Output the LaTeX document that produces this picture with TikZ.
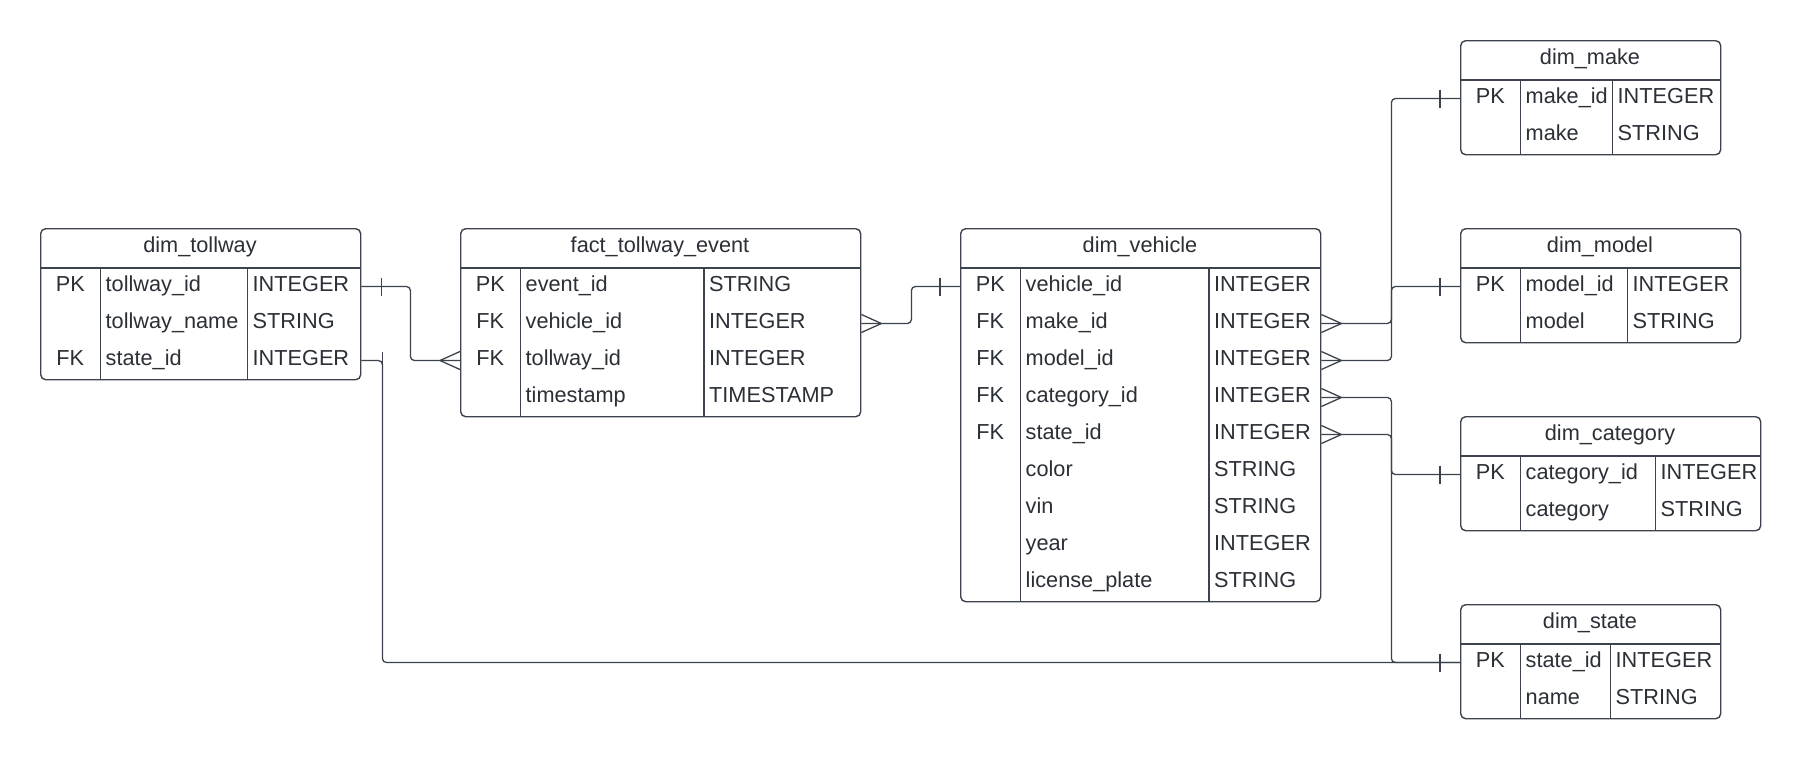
\documentclass[tikz,border=0pt]{standalone}
\usepackage{fontspec}
\setmainfont{Liberation Sans}
\definecolor{lncol}{HTML}{3D434D}
\definecolor{inkcol}{HTML}{2B2F36}

\begin{document}
\begin{tikzpicture}[x=1pt,y=-1pt,
  tbl/.style={draw=lncol,line width=1.4pt,rounded corners=5pt,anchor=north west,inner sep=0pt},
  cell/.style={inner sep=0pt,minimum height=37pt,text height=9pt,text depth=0pt,
    text=inkcol,font=\fontsize{21.7}{26}\selectfont},
  keycell/.style={cell,minimum width=60pt},
  fieldcell/.style={cell,anchor=west},
  title/.style={cell,minimum height=40pt},
  grid/.style={draw=lncol,line width=1.3pt},
  rel/.style={draw=lncol,line width=1.3pt,rounded corners=4pt},
  foot/.style={draw=lncol,line width=1.3pt}]

\useasboundingbox[fill=white] (0,0) rectangle (1800,758);

  %% tables
  \node[tbl,minimum width=320pt,minimum height=151pt] (tollway) at (40,228) {};
  \node[tbl,minimum width=400pt,minimum height=188pt] (fact) at (460,228) {};
  \node[tbl,minimum width=360pt,minimum height=373pt] (vehicle) at (960,228) {};
  \node[tbl,minimum width=260pt,minimum height=114pt] (make) at (1460,40) {};
  \node[tbl,minimum width=280pt,minimum height=114pt] (model) at (1460,228) {};
  \node[tbl,minimum width=300pt,minimum height=114pt] (category) at (1460,416) {};
  \node[tbl,minimum width=260pt,minimum height=114pt] (state) at (1460,604) {};

  %% header and column lines
  \draw[grid] (40,268) -- (360,268) (100.5,268) -- (100.5,379) (247.5,268) -- (247.5,379);
  \draw[grid] (460,268) -- (860,268) (520.5,268) -- (520.5,416) (704,268) -- (704,416);
  \draw[grid] (960,268) -- (1320,268) (1020.5,268) -- (1020.5,601) (1209,268) -- (1209,601);
  \draw[grid] (1460,80) -- (1720,80) (1520.5,80) -- (1520.5,154) (1612.5,80) -- (1612.5,154);
  \draw[grid] (1460,268) -- (1740,268) (1520.5,268) -- (1520.5,342) (1627.5,268) -- (1627.5,342);
  \draw[grid] (1460,456) -- (1760,456) (1520.5,456) -- (1520.5,530) (1655.5,456) -- (1655.5,530);
  \draw[grid] (1460,644) -- (1720,644) (1520.5,644) -- (1520.5,718) (1610.5,644) -- (1610.5,718);

  %% titles
  \node[title] (twh) at (200,248) {dim\_tollway};
  \node[title] (feh) at (660,248) {fact\_tollway\_event};
  \node[title] (veh) at (1140,248) {dim\_vehicle};
  \node[title] (mkh) at (1590,60) {dim\_make};
  \node[title] (mdh) at (1600,248) {dim\_model};
  \node[title] (cth) at (1610,436) {dim\_category};
  \node[title] (sth) at (1590,624) {dim\_state};

  %% dim_tollway rows
  \node[keycell] (tw1) at (70.25,286.5) {PK};
  \node[fieldcell] (tw1n) at (105.5,286.5) {tollway\_id};
  \node[fieldcell] (tw1t) at (252.5,286.5) {INTEGER};
  \node[keycell] (tw2) at (70.25,323.5) {};
  \node[fieldcell] (tw2n) at (105.5,323.5) {tollway\_name};
  \node[fieldcell] (tw2t) at (252.5,323.5) {STRING};
  \node[keycell] (tw3) at (70.25,360.5) {FK};
  \node[fieldcell] (tw3n) at (105.5,360.5) {state\_id};
  \node[fieldcell] (tw3t) at (252.5,360.5) {INTEGER};

  %% fact_tollway_event rows
  \node[keycell] (fe1) at (490.25,286.5) {PK};
  \node[fieldcell] (fe1n) at (525.5,286.5) {event\_id};
  \node[fieldcell] (fe1t) at (709,286.5) {STRING};
  \node[keycell] (fe2) at (490.25,323.5) {FK};
  \node[fieldcell] (fe2n) at (525.5,323.5) {vehicle\_id};
  \node[fieldcell] (fe2t) at (709,323.5) {INTEGER};
  \node[keycell] (fe3) at (490.25,360.5) {FK};
  \node[fieldcell] (fe3n) at (525.5,360.5) {tollway\_id};
  \node[fieldcell] (fe3t) at (709,360.5) {INTEGER};
  \node[keycell] (fe4) at (490.25,397.5) {};
  \node[fieldcell] (fe4n) at (525.5,397.5) {timestamp};
  \node[fieldcell] (fe4t) at (709,397.5) {TIMESTAMP};

  %% dim_vehicle rows
  \node[keycell] (ve1) at (990.25,286.5) {PK};
  \node[fieldcell] (ve1n) at (1025.5,286.5) {vehicle\_id};
  \node[fieldcell] (ve1t) at (1214,286.5) {INTEGER};
  \node[keycell] (ve2) at (990.25,323.5) {FK};
  \node[fieldcell] (ve2n) at (1025.5,323.5) {make\_id};
  \node[fieldcell] (ve2t) at (1214,323.5) {INTEGER};
  \node[keycell] (ve3) at (990.25,360.5) {FK};
  \node[fieldcell] (ve3n) at (1025.5,360.5) {model\_id};
  \node[fieldcell] (ve3t) at (1214,360.5) {INTEGER};
  \node[keycell] (ve4) at (990.25,397.5) {FK};
  \node[fieldcell] (ve4n) at (1025.5,397.5) {category\_id};
  \node[fieldcell] (ve4t) at (1214,397.5) {INTEGER};
  \node[keycell] (ve5) at (990.25,434.5) {FK};
  \node[fieldcell] (ve5n) at (1025.5,434.5) {state\_id};
  \node[fieldcell] (ve5t) at (1214,434.5) {INTEGER};
  \node[keycell] (ve6) at (990.25,471.5) {};
  \node[fieldcell] (ve6n) at (1025.5,471.5) {color};
  \node[fieldcell] (ve6t) at (1214,471.5) {STRING};
  \node[keycell] (ve7) at (990.25,508.5) {};
  \node[fieldcell] (ve7n) at (1025.5,508.5) {vin};
  \node[fieldcell] (ve7t) at (1214,508.5) {STRING};
  \node[keycell] (ve8) at (990.25,545.5) {};
  \node[fieldcell] (ve8n) at (1025.5,545.5) {year};
  \node[fieldcell] (ve8t) at (1214,545.5) {INTEGER};
  \node[keycell] (ve9) at (990.25,582.5) {};
  \node[fieldcell] (ve9n) at (1025.5,582.5) {license\_plate};
  \node[fieldcell] (ve9t) at (1214,582.5) {STRING};

  %% dim_make rows
  \node[keycell] (mk1) at (1490.25,98.5) {PK};
  \node[fieldcell] (mk1n) at (1525.5,98.5) {make\_id};
  \node[fieldcell] (mk1t) at (1617.5,98.5) {INTEGER};
  \node[keycell] (mk2) at (1490.25,135.5) {};
  \node[fieldcell] (mk2n) at (1525.5,135.5) {make};
  \node[fieldcell] (mk2t) at (1617.5,135.5) {STRING};

  %% dim_model rows
  \node[keycell] (md1) at (1490.25,286.5) {PK};
  \node[fieldcell] (md1n) at (1525.5,286.5) {model\_id};
  \node[fieldcell] (md1t) at (1632.5,286.5) {INTEGER};
  \node[keycell] (md2) at (1490.25,323.5) {};
  \node[fieldcell] (md2n) at (1525.5,323.5) {model};
  \node[fieldcell] (md2t) at (1632.5,323.5) {STRING};

  %% dim_category rows
  \node[keycell] (ct1) at (1490.25,474.5) {PK};
  \node[fieldcell] (ct1n) at (1525.5,474.5) {category\_id};
  \node[fieldcell] (ct1t) at (1660.5,474.5) {INTEGER};
  \node[keycell] (ct2) at (1490.25,511.5) {};
  \node[fieldcell] (ct2n) at (1525.5,511.5) {category};
  \node[fieldcell] (ct2t) at (1660.5,511.5) {STRING};

  %% dim_state rows
  \node[keycell] (st1) at (1490.25,662.5) {PK};
  \node[fieldcell] (st1n) at (1525.5,662.5) {state\_id};
  \node[fieldcell] (st1t) at (1615.5,662.5) {INTEGER};
  \node[keycell] (st2) at (1490.25,699.5) {};
  \node[fieldcell] (st2n) at (1525.5,699.5) {name};
  \node[fieldcell] (st2t) at (1615.5,699.5) {STRING};

  %% tollway -> fact (one to many)
  \draw[rel] (tollway.east |- tw1) -- ++(49,0) |- (fact.west |- fe3);
  \draw[foot] (tollway.east |- tw1) ++(20,-9) -- ++(0,18);
  \draw[foot] (fact.west |- fe3) ++(-20,0) -- ++(20,-9) ++(-20,9) -- ++(20,9);

  %% vehicle -> fact
  \draw[rel] (fact.east |- fe2) -- ++(50,0) |- (vehicle.west |- ve1);
  \draw[foot] (fact.east |- fe2) ++(20,0) -- ++(-20,-9) ++(20,9) -- ++(-20,9);
  \draw[foot] (vehicle.west |- ve1) ++(-20,-9) -- ++(0,18);

  %% make -> vehicle
  \draw[rel] (vehicle.east |- ve2) -- ++(70,0) |- (make.west |- mk1);
  \draw[foot] (vehicle.east |- ve2) ++(20,0) -- ++(-20,-9) ++(20,9) -- ++(-20,9);
  \draw[foot] (make.west |- mk1) ++(-20,-9) -- ++(0,18);

  %% model -> vehicle
  \draw[rel] (vehicle.east |- ve3) -- ++(70,0) |- (model.west |- md1);
  \draw[foot] (vehicle.east |- ve3) ++(20,0) -- ++(-20,-9) ++(20,9) -- ++(-20,9);
  \draw[foot] (model.west |- md1) ++(-20,-9) -- ++(0,18);

  %% category -> vehicle
  \draw[rel] (vehicle.east |- ve4) -- ++(70,0) |- (category.west |- ct1);
  \draw[foot] (vehicle.east |- ve4) ++(20,0) -- ++(-20,-9) ++(20,9) -- ++(-20,9);
  \draw[foot] (category.west |- ct1) ++(-20,-9) -- ++(0,18);

  %% state -> vehicle
  \draw[rel] (vehicle.east |- ve5) -- ++(70,0) |- (state.west |- st1);
  \draw[foot] (vehicle.east |- ve5) ++(20,0) -- ++(-20,-9) ++(20,9) -- ++(-20,9);
  \draw[foot] (state.west |- st1) ++(-20,-9) -- ++(0,18);

  %% state -> tollway
  \draw[rel] (tollway.east |- tw3) -- ++(21,0) |- (state.west |- st1);
  \draw[foot] (tollway.east |- tw3) ++(21,-9) -- ++(0,18);

\end{tikzpicture}
\end{document}
